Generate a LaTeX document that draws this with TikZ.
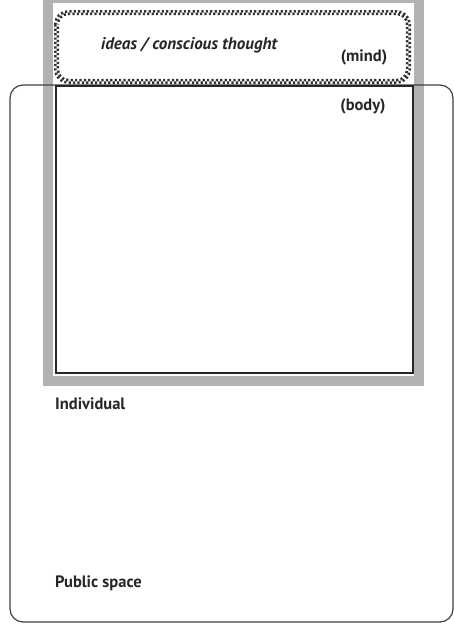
\documentclass[tikz,border=0pt]{standalone}
\usepackage{fontspec}
\setmainfont{PT Sans}
\begin{document}
\begin{tikzpicture}[x=1pt,y=-1pt,
  lbl/.style={font=\bfseries\fontsize{16.5}{18}\selectfont, inner sep=0pt, text=black!85},
  ilbl/.style={font=\bfseries\itshape\fontsize{17}{19}\selectfont, inner sep=0pt, text=black!85},
  frame/.style={draw=black!75, line width=1.2pt, rounded corners=13pt},
  bodybox/.style={draw=black!85, line width=2.6pt},
  chk/.style={draw=black!80, line width=2.6pt, rounded corners=#1, dash pattern=on 2.2pt off 2.2pt}
]
\useasboundingbox (0,0) rectangle (454,625);
% gray frame
\fill[black!30] (43,0) rectangle (424,386);
\fill[white] (53,3) rectangle (414,376);
% public space frame
\draw[frame] (10,85) rectangle (453,622);
% body
\draw[bodybox] (56,86) rectangle (413,373);
% mind checkered border
\fill[white] (56,12) rectangle (409,82);
\draw[chk=13pt] (55.3,11.3) rectangle (409.7,82.7);
\draw[chk=10.5pt, dash phase=2.2pt] (57.9,13.9) rectangle (407.1,80.1);
% texts
\node[ilbl] (ideas) at (189,45) {ideas / conscious thought};
\node[lbl] (mind) at (364,57) {(mind)};
\node[lbl] (body) at (363,106) {(body)};
\node[lbl, anchor=west] (indiv) at (55,404) {Individual};
\node[lbl, anchor=west] (pub) at (55,583) {Public space};
\end{tikzpicture}
\end{document}
